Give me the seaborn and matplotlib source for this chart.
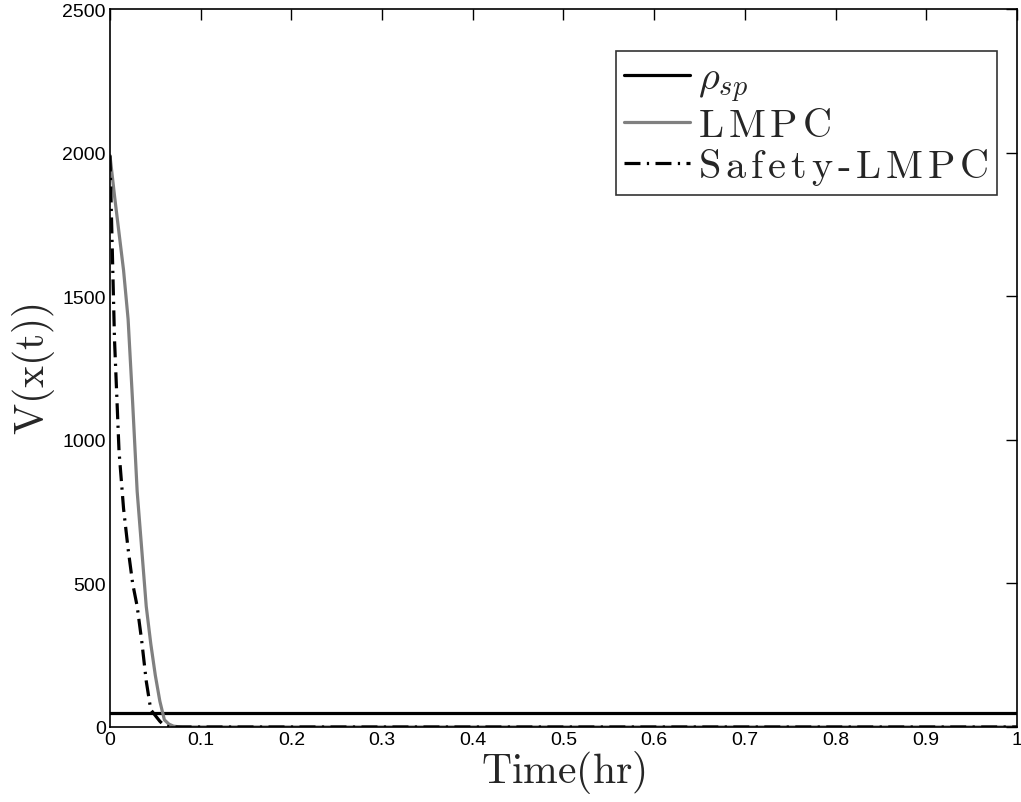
import numpy as np
import pandas as pd
import matplotlib
matplotlib.use("Agg")
import matplotlib.pyplot as plt
import seaborn as sns

# Data
t_early = [0.0, 0.005, 0.01, 0.015, 0.02, 0.025, 0.03, 0.035, 0.04, 0.045,
           0.05, 0.055, 0.06, 0.065, 0.07, 0.075, 0.08]
lmpc_early = [1990, 1850, 1720, 1590, 1420, 1130, 820, 620, 420, 290,
              180, 90, 25, 10, 3, 1, 0]
safety_early = [1990, 1350, 960, 760, 620, 500, 420, 300, 160, 60,
                40, 20, 5, 1, 0, 0, 0]
t_late = [0.1, 0.2, 0.3, 0.4, 0.5, 0.6, 0.7, 0.8, 0.9, 1.0]
lmpc_late = [0, 0, 0, 0, 0, 0, 0, 0, 0, 0]
safety_late = [0, 0, 0, 0, 0, 0, 0, 0, 0, 0]
rho_sp = 50
x_ticks = [0, 0.1, 0.2, 0.3, 0.4, 0.5, 0.6, 0.7, 0.8, 0.9, 1]
x_ticklabels = ["0", "0.1", "0.2", "0.3", "0.4", "0.5", "0.6", "0.7", "0.8", "0.9", "1"]
y_ticks = [0, 500, 1000, 1500, 2000, 2500]
legend_names = ["LMPC", "Safety-LMPC"]


def spaced(word, gap=0.14):
    parts = []
    for ch in word:
        parts.append(r"\text{-}" if ch == "-" else ch)
    return r"$\mathrm{" + (r"\hspace{%g}" % gap).join(parts) + "}$"


time = t_early + t_late
df_lmpc = pd.DataFrame({"t": time, "V": lmpc_early + lmpc_late})
df_safe = pd.DataFrame({"t": time, "V": safety_early + safety_late})
df_rho = pd.DataFrame({"t": [0, 1], "V": [rho_sp, rho_sp]})

sns.set_style("white")
plt.rcParams["font.family"] = ["Liberation Sans", "DejaVu Sans"]
plt.rcParams["mathtext.fontset"] = "cm"

fig = plt.figure(figsize=(10.21, 8.03), dpi=100)
ax = fig.add_axes([0.1077, 0.0934, 0.8883, 0.8941])

sns.lineplot(data=df_rho, x="t", y="V", ax=ax, color="black", lw=2.3,
             label=r"$\rho_{sp}$")
sns.lineplot(data=df_lmpc, x="t", y="V", ax=ax, color="#808080", lw=2.3,
             label=spaced(legend_names[0]))
sns.lineplot(data=df_safe, x="t", y="V", ax=ax, color="black", lw=2.3,
             linestyle=(0, (5, 2, 0.7, 2)), label=spaced(legend_names[1]))

ax.set_xlim(0, 1)
ax.set_ylim(0, 2500)
ax.set_xticks(x_ticks)
ax.set_xticklabels(x_ticklabels)
ax.set_yticks(y_ticks)
ax.tick_params(direction="in", length=8, width=1, top=True, right=True,
               labelsize=14, colors="black", pad=3)
for s in ax.spines.values():
    s.set_color("black")
    s.set_linewidth(1.2)

ax.set_xlabel(r"$\mathrm{Time(hr)}$", fontsize=30, labelpad=0)
ax.set_ylabel(r"$\mathrm{V(x(t))}$", fontsize=30, labelpad=4)

leg = ax.legend(loc="upper right", bbox_to_anchor=(0.978, 0.9415),
                fontsize=29, frameon=True, fancybox=False,
                edgecolor="black", handlelength=1.65, handletextpad=0.2,
                borderpad=0.2, labelspacing=0.05, borderaxespad=0.0)
leg.get_frame().set_linewidth(1.2)

fig.savefig("out.png", dpi=100)
